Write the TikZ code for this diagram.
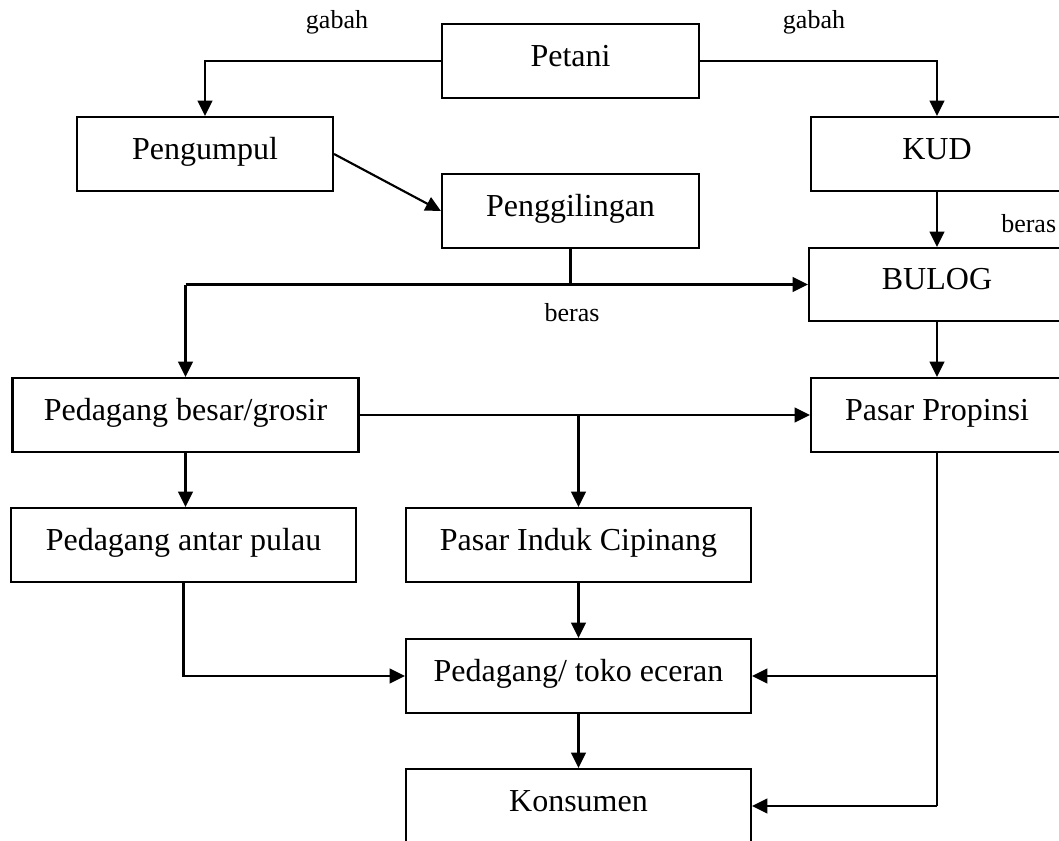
\documentclass[tikz,border=0pt]{standalone}
\usepackage{fontspec}
\setmainfont{Liberation Serif}
\usetikzlibrary{arrows.meta}
\begin{document}
\begin{tikzpicture}[x=0.75pt,y=-0.75pt,
  box/.style={draw,line width=1.6pt,rectangle,minimum height=55.5pt,inner sep=0pt,text height=17pt,text depth=9pt,font=\fontsize{24}{28}\selectfont},
  conn/.style={line width=1.6pt},
  arr/.style={line width=1.6pt,-{Triangle[length=11.5pt,width=11pt]}},
  lbl/.style={font=\fontsize{19.5}{23}\selectfont,inner sep=0pt}]
\useasboundingbox (0,0) rectangle (1059,840);
\clip (0,0) rectangle (1059,840);
\node[box,minimum width=192.75pt] (petani) at (570.5,61) {Petani};
\node[box,minimum width=192pt] (pengumpul) at (205,154) {Pengumpul};
\node[box,minimum width=189pt] (kud) at (937,154) {KUD};
\node[box,minimum width=192.75pt] (penggilingan) at (570.5,211) {Penggilingan};
\node[box,minimum width=192pt,minimum height=54.75pt] (bulog) at (937,284.5) {BULOG};
\node[box,minimum width=259.5pt] (besar) at (185.5,415) {Pedagang besar/grosir};
\node[box,minimum width=189pt] (propinsi) at (937,415) {Pasar Propinsi};
\node[box,minimum width=258.75pt] (antar) at (183.5,545) {Pedagang antar pulau};
\node[box,minimum width=258.75pt] (induk) at (578.5,545) {Pasar Induk Cipinang};
\node[box,minimum width=258.75pt] (eceran) at (578.5,676) {Pedagang/ toko eceran};
\node[box,minimum width=258.75pt,text depth=14pt,text height=22pt] (konsumen) at (578.5,806) {Konsumen};

\node[lbl] (gabahL) at (337,22) {gabah};
\node[lbl] (gabahR) at (814,22) {gabah};
\node[lbl] (berasM) at (572,313) {beras};
\node[lbl,anchor=west] (berasR) at (1001,224) {beras};

\draw[arr] (petani.west) -| (pengumpul.north);
\draw[arr] (petani.east) -| (kud.north);
\draw[arr] (pengumpul.east) -- (penggilingan.west);
\draw[arr] (kud.south) -- (bulog.north);
\coordinate (j1) at (penggilingan.south |- bulog.west);
\coordinate (j1l) at (besar.north |- bulog.west);
\draw[conn] (penggilingan.south) -- (j1);
\draw[arr] (j1l) -- (bulog.west);
\draw[arr] (j1l) -- (besar.north);
\draw[arr] (bulog.south) -- (propinsi.north);
\draw[arr] (besar.east) -- (propinsi.west);
\coordinate (j2) at (induk.north |- besar.east);
\draw[arr] (j2) -- (induk.north);
\draw[arr] (besar.south) -- (besar.south |- antar.north);
\draw[arr] (antar.south) |- (eceran.west);
\draw[arr] (induk.south) -- (eceran.north);
\coordinate (j3) at (propinsi.south |- eceran.east);
\coordinate (j4) at (propinsi.south |- 0,806);
\draw[conn] (propinsi.south) -- (j4);
\draw[arr] (j3) -- (eceran.east);
\draw[arr] (j4) -- (konsumen.east);
\draw[arr] (eceran.south) -- (konsumen.north);
\end{tikzpicture}
\end{document}
